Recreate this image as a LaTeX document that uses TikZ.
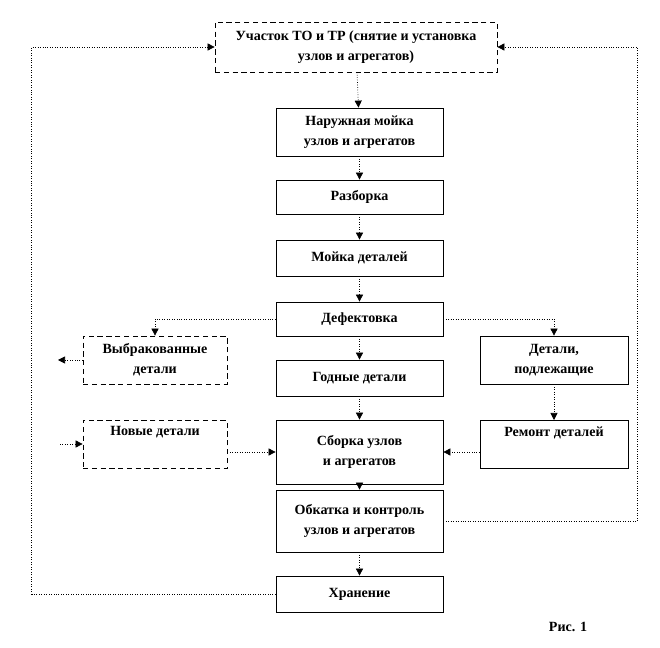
\documentclass[tikz,border=0pt]{standalone}
\usepackage{fontspec}
\setmainfont{Liberation Serif}
\usepackage{tikz}
\usetikzlibrary{arrows.meta}
\tikzset{
        blk/.style={draw, thin, align=center, font=\fontsize{8}{11.5}\selectfont\bfseries, inner sep=1pt},
        dblk/.style={blk, densely dashed},
        link/.style={densely dotted, -{Triangle[length=4pt,width=4pt]}}
}
\begin{document}
\begin{tikzpicture}[x=0.02cm, y=-0.02cm]
        \useasboundingbox (0,0) rectangle (660,648);
        \node (uch) [dblk, minimum width=282*0.02cm, minimum height=50*0.02cm] at (356,47) {Участок ТО и ТР (снятие и установка\\узлов и агрегатов)};
        \node (nar) [blk, minimum width=167*0.02cm, minimum height=48*0.02cm] at (359.5,132) {Наружная мойка\\узлов и агрегатов};
        \node (raz) [blk, minimum width=167*0.02cm, minimum height=34*0.02cm] at (359.5,197) {Разборка};
        \node (moy) [blk, minimum width=167*0.02cm, minimum height=36*0.02cm] at (359.5,258) {Мойка деталей};
        \node (def) [blk, minimum width=167*0.02cm, minimum height=34*0.02cm] at (359.5,319) {Дефектовка};
        \node (god) [blk, minimum width=167*0.02cm, minimum height=36*0.02cm] at (359.5,378) {Годные детали};
        \node (sbo) [blk, minimum width=167*0.02cm, minimum height=64*0.02cm] at (359.5,452) {Сборка узлов\\и агрегатов};
        \node (obk) [blk, minimum width=167*0.02cm, minimum height=62*0.02cm] at (359.5,521) {Обкатка и контроль\\узлов и агрегатов};
        \node (hra) [blk, minimum width=167*0.02cm, minimum height=36*0.02cm] at (359.5,594) {Хранение};
        \node (vyb) [dblk, minimum width=144*0.02cm, minimum height=48*0.02cm] at (155,360) {Выбракованные\\детали};
        \node (nov) [dblk, minimum width=144*0.02cm, minimum height=48*0.02cm, anchor=north] at (155,420) {Новые детали\\\strut};
        \node (pod) [blk, minimum width=148*0.02cm, minimum height=48*0.02cm] at (554,360) {Детали,\\подлежащие};
        \node (rem) [blk, minimum width=148*0.02cm, minimum height=48*0.02cm, anchor=north] at (554,420) {Ремонт деталей\\\strut};
        \node (ris) [font=\fontsize{8}{10}\selectfont\bfseries] at (568,627) {Рис. 1};
        \coordinate (vout) at (58,360);
        \coordinate (nin) at (60,444);
        \draw [link] (uch) -- (nar);
        \draw [link] (nar) -- (raz);
        \draw [link] (raz) -- (moy);
        \draw [link] (moy) -- (def);
        \draw [link] (def) -- (god);
        \draw [link] (god) -- (sbo);
        \draw [link] (sbo) -- (obk);
        \draw [link] (obk) -- (hra);
        \draw [link] (def.west) -| (vyb.north);
        \draw [link] (def.east) -| (pod.north);
        \draw [link] (pod) -- (rem);
        \draw [link] (rem.west |- sbo) -- (sbo.east);
        \draw [link] (nov.east |- sbo) -- (sbo.west);
        \draw [link] (nin) -- (nin -| nov.west);
        \draw [link] (vyb.west) -- (vout);
        \draw [link] (obk.east) -- ++(194,0) |- (uch.east);
        \draw [link] (hra.west) -- ++(-244,0) |- (uch.west);
\end{tikzpicture}
\end{document}
